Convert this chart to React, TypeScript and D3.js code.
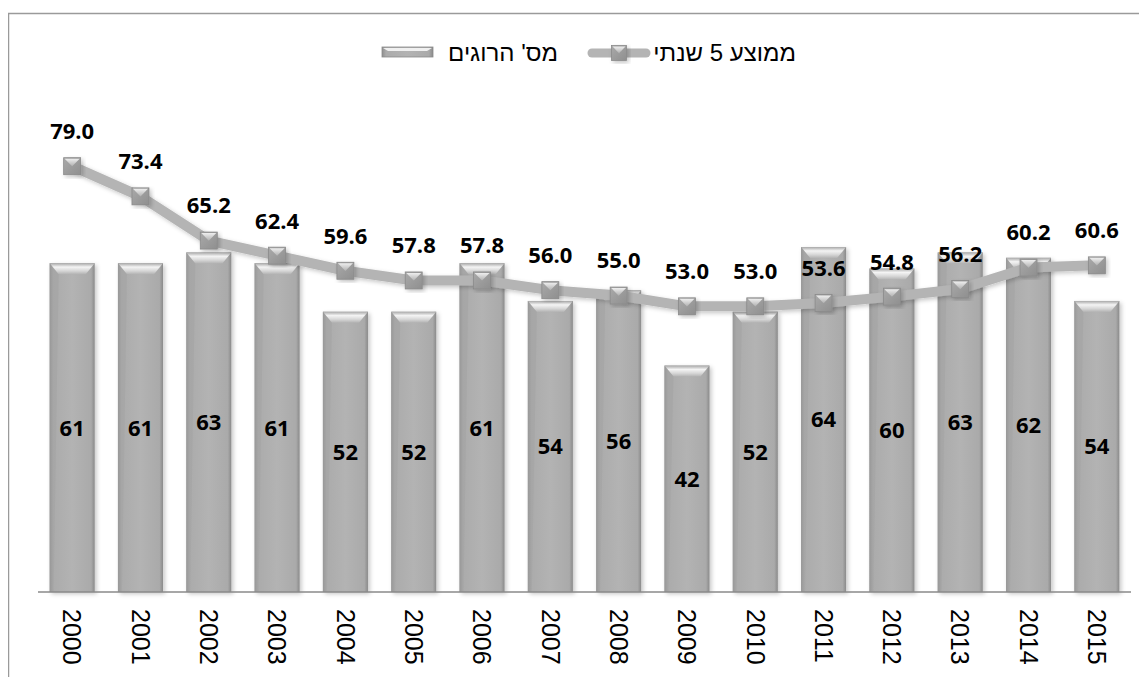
import * as d3 from 'd3'

const years = ['2000', '2001', '2002', '2003', '2004', '2005', '2006', '2007', '2008', '2009', '2010', '2011', '2012', '2013', '2014', '2015']
const killed = [61, 61, 63, 61, 52, 52, 61, 54, 56, 42, 52, 64, 60, 63, 62, 54]
const avg5 = [79.0, 73.4, 65.2, 62.4, 59.6, 57.8, 57.8, 56.0, 55.0, 53.0, 53.0, 53.6, 54.8, 56.2, 60.2, 60.6]
const legendBar = "מס' הרוגים"
const legendLine = 'ממוצע 5 שנתי'

const W = 1147
const H = 677
const plot = { left: 38, right: 1131, bottom: 592, top: 53 }
const labelFont = '"Open Sans", "DejaVu Sans", sans-serif'
const textFont = '"Liberation Sans", Arial, sans-serif'

function Bar({ x, y, w, h }: { x: number; y: number; w: number; h: number }) {
  const b = 9
  return (
    <g filter="url(#shadow)">
      <rect x={x} y={y} width={w} height={h} fill="url(#barBody)" />
      <polygon points={`${x},${y} ${x + w},${y} ${x + w - b},${y + b + 2} ${x + b},${y + b + 2}`} fill="url(#barTop)" />
      <polygon points={`${x},${y} ${x + b},${y + b + 2} ${x + 4},${y + h} ${x},${y + h}`} fill="#a2a2a2" opacity={0.5} />
    </g>
  )
}

function Marker({ cx, cy, s }: { cx: number; cy: number; s: number }) {
  const x = cx - s / 2
  const y = cy - s / 2
  const b = s * 0.45
  return (
    <g filter="url(#shadow)">
      <rect x={x} y={y} width={s} height={s} fill="url(#markBody)" stroke="#8a8a8a" strokeWidth={0.8} />
      <polygon points={`${x + 1},${y + 1} ${x + s - 1},${y + 1} ${cx},${y + b + 1}`} fill="url(#markTop)" />
    </g>
  )
}

export default function App() {
  const x = d3.scaleBand<string>().domain(years).range([plot.left, plot.right]).paddingInner(0.34).paddingOuter(0.17)
  const y = d3.scaleLinear().domain([0, 100]).range([plot.bottom, plot.top])
  const bw = x.bandwidth()
  const cx = (yr: string) => (x(yr) ?? 0) + bw / 2

  const line = d3
    .line<number>()
    .x((_, i) => cx(years[i]))
    .y((d) => y(d))

  return (
    <svg width={W - 8} height={H - 8} style={{ display: 'block' }}>
      <defs>
        <linearGradient id="barBody" x1="0" x2="1" y1="0" y2="0">
          <stop offset="0" stopColor="#8e8e8e" />
          <stop offset="0.08" stopColor="#ababab" />
          <stop offset="0.5" stopColor="#b3b3b3" />
          <stop offset="0.92" stopColor="#aaaaaa" />
          <stop offset="1" stopColor="#8a8a8a" />
        </linearGradient>
        <linearGradient id="barTop" x1="0" x2="0" y1="0" y2="1">
          <stop offset="0" stopColor="#a8a8a8" />
          <stop offset="0.35" stopColor="#f4f4f4" />
          <stop offset="0.7" stopColor="#d6d6d6" />
          <stop offset="1" stopColor="#b3b3b3" />
        </linearGradient>
        <linearGradient id="markBody" x1="0" x2="1" y1="0" y2="1">
          <stop offset="0" stopColor="#a9a9a9" />
          <stop offset="1" stopColor="#8f8f8f" />
        </linearGradient>
        <linearGradient id="markTop" x1="0" x2="0" y1="0" y2="1">
          <stop offset="0" stopColor="#eeeeee" />
          <stop offset="1" stopColor="#b0b0b0" />
        </linearGradient>
        <filter id="shadow" x="-30%" y="-10%" width="160%" height="130%">
          <feDropShadow dx="2" dy="2" stdDeviation="2" floodColor="#000" floodOpacity="0.22" />
        </filter>
      </defs>
      <g transform="translate(-8,-8)">
        <rect x={8.5} y={13.5} width={W + 10} height={H + 10} fill="#fff" stroke="#9a9a9a" strokeWidth={1.5} />

        {/* legend */}
        <g>
          <rect x={382} y={47} width={51} height={10} fill="url(#barBody)" stroke="#8a8a8a" strokeWidth={0.8} />
          <polygon points="383,48 432,48 427,51 388,51" fill="#f0f0f0" />
          <text x={558} y={61} textAnchor="start" direction="rtl" fontFamily={textFont} fontSize={24} fill="#000">
            {legendBar}
          </text>
          <line x1={592} x2={646} y1={53} y2={53} stroke="#b4b4b4" strokeWidth={9} strokeLinecap="round" />
          <Marker cx={619} cy={53} s={15} />
          <text x={796} y={61} textAnchor="start" direction="rtl" fontFamily={textFont} fontSize={24} fill="#000">
            {legendLine}
          </text>
        </g>

        {/* bars */}
        {killed.map((v, i) => (
          <Bar key={years[i]} x={x(years[i]) ?? 0} y={y(v)} w={bw} h={y(0) - y(v)} />
        ))}
        {killed.map((v, i) => (
          <text
            key={'bl' + years[i]}
            x={cx(years[i])}
            y={(y(v) + y(0)) / 2}
            dy="0.36em"
            textAnchor="middle"
            fontFamily={labelFont}
            fontWeight={700}
            fontSize={22}
            fill="#000"
          >
            {v}
          </text>
        ))}

        {/* axis */}
        <line x1={plot.left} x2={plot.right} y1={plot.bottom} y2={plot.bottom} stroke="#8a8a8a" strokeWidth={1.5} />
        {years.map((yr) => (
          <text
            key={'t' + yr}
            transform={`translate(${cx(yr)},609) rotate(90)`}
            dy="0.35em"
            fontFamily={textFont}
            fontSize={25}
            fill="#000"
          >
            {yr}
          </text>
        ))}

        {/* 5-year average line */}
        <path d={line(avg5) ?? ''} fill="none" stroke="#b4b4b4" strokeWidth={10} strokeLinejoin="round" filter="url(#shadow)" />
        {avg5.map((v, i) => (
          <Marker key={'m' + years[i]} cx={cx(years[i])} cy={y(v)} s={17} />
        ))}
        {avg5.map((v, i) => (
          <text
            key={'ll' + years[i]}
            x={cx(years[i])}
            y={y(v) - 35}
            dy="0.36em"
            textAnchor="middle"
            fontFamily={labelFont}
            fontWeight={700}
            fontSize={22}
            fill="#000"
          >
            {v.toFixed(1)}
          </text>
        ))}
      </g>
    </svg>
  )
}
